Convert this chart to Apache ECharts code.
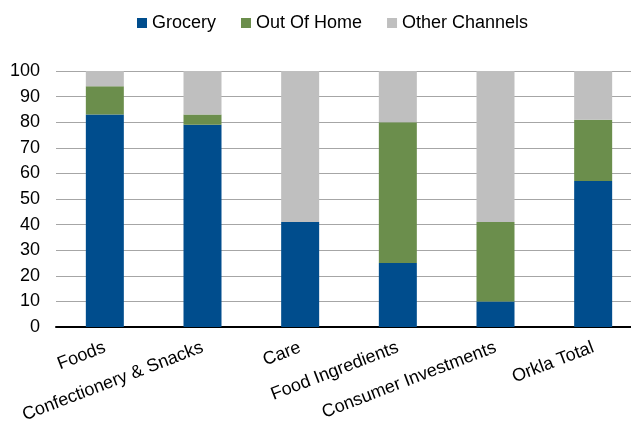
<!DOCTYPE html>
<html>
<head>
<meta charset="utf-8">
<script src="https://cdn.jsdelivr.net/npm/echarts@6/dist/echarts.min.js"></script>
<style>
	html, body { margin: 0; padding: 0; background: #fff; }
	#chart { width: 631px; height: 421px; }
</style>
</head>
<body>
<div id="chart"></div>
<script>
const categories = ['Foods', 'Confectionery & Snacks', 'Care', 'Food Ingredients', 'Consumer Investments', 'Orkla Total'];
const grocery = [83, 79, 41, 25, 10, 57];
const outOfHome = [11, 4, 0, 55, 31, 24];
const otherChannels = [6, 17, 59, 20, 59, 19];
const yTicks = [0, 10, 20, 30, 40, 50, 60, 70, 80, 90, 100];

const font = 'Liberation Sans, Arial, sans-serif';
const chart = echarts.init(document.getElementById('chart'));

chart.setOption({
	animation: false,
	color: ['#004D8D', '#6B8E4C', '#BFBFBF'],
	legend: {
		top: 9,
		left: 132,
		itemWidth: 10,
		itemHeight: 10,
		itemGap: 25,
		icon: 'rect',
		textStyle: { fontFamily: font, fontSize: 18, color: '#000' },
		data: ['Grocery', 'Out Of Home', 'Other Channels'],
	},
	grid: {
		// the plot runs past the right edge of the picture
		left: 56,
		top: 71,
		width: 586,
		height: 256,
		outerBoundsMode: 'none',
	},
	xAxis: {
		type: 'category',
		data: categories,
		axisLine: { lineStyle: { color: '#000', width: 2 } },
		axisTick: { show: false },
		axisLabel: {
			rotate: 21,
			margin: 20,
			interval: 0,
			color: '#000',
			fontFamily: font,
			fontSize: 18,
		},
	},
	yAxis: {
		type: 'value',
		min: yTicks[0],
		max: yTicks[yTicks.length - 1],
		interval: 10,
		axisLine: { show: false },
		axisTick: { show: false },
		splitLine: { lineStyle: { color: '#A6A6A6', width: 1 } },
		axisLabel: { margin: 16, color: '#000', fontFamily: font, fontSize: 18 },
	},
	series: [
		{ name: 'Grocery', type: 'bar', stack: 'total', barWidth: 38, data: grocery },
		{ name: 'Out Of Home', type: 'bar', stack: 'total', barWidth: 38, data: outOfHome },
		{ name: 'Other Channels', type: 'bar', stack: 'total', barWidth: 38, data: otherChannels },
	],
});
</script>
</body>
</html>
